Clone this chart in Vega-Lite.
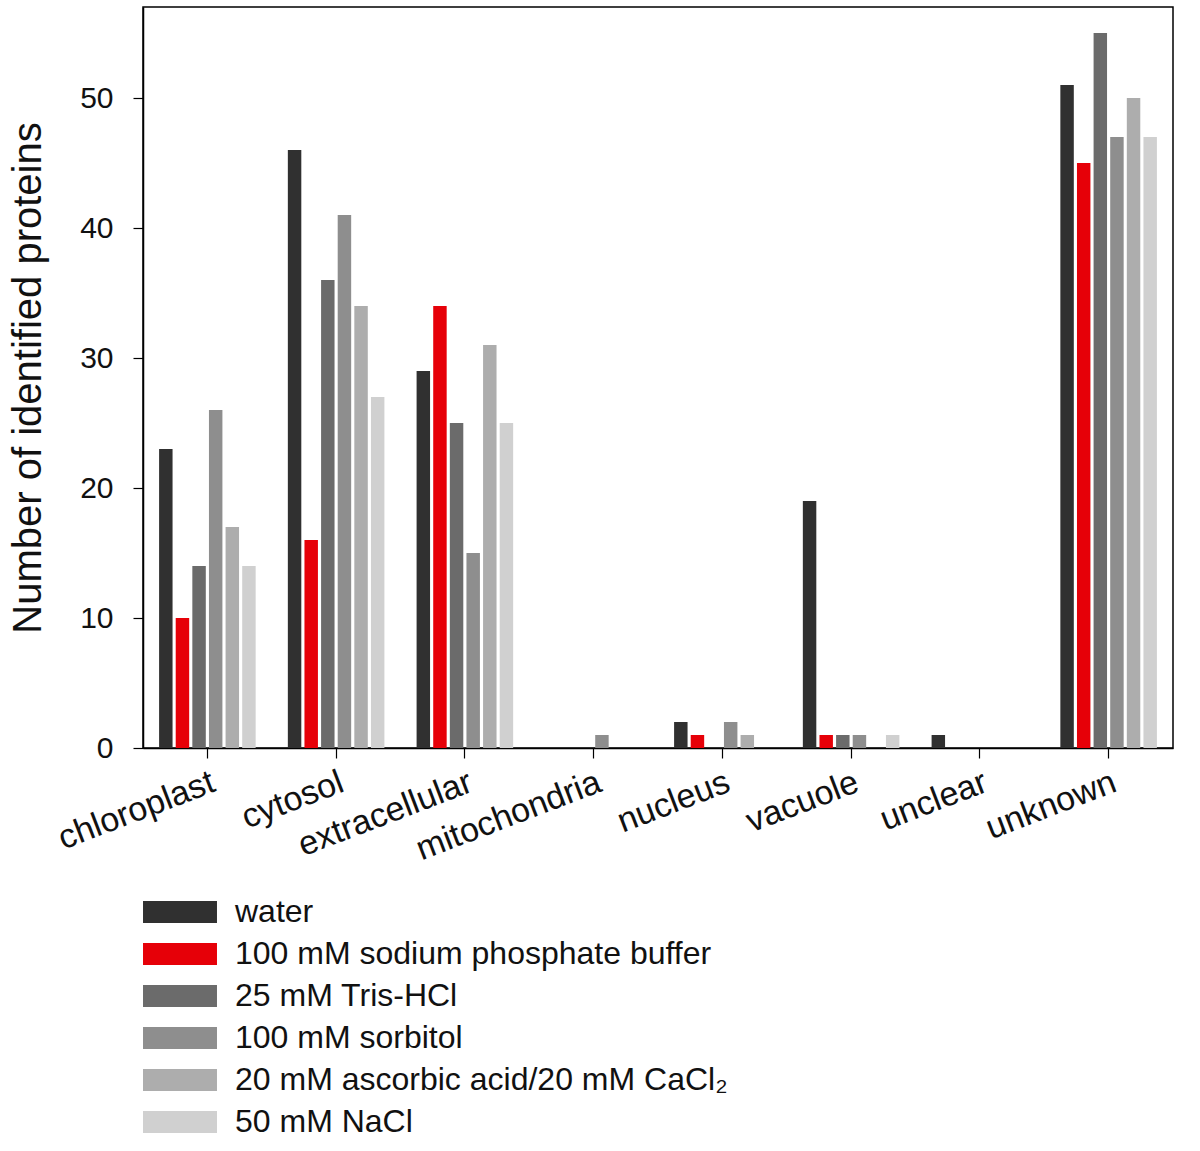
{
  "$schema": "https://vega.github.io/schema/vega-lite/v6.json",
  "width": 1030,
  "height": 741,
  "autosize": {"type": "none"},
  "padding": {"left": 143, "top": 7, "right": 27, "bottom": 403},
  "background": "white",
  "config": {
    "font": "Liberation Sans",
    "view": {"stroke": "#000", "strokeWidth": 1.5},
    "axis": {
      "domainColor": "#000",
      "domainWidth": 1.5,
      "tickColor": "#000",
      "tickWidth": 1.2,
      "tickSize": 10,
      "labelColor": "#111",
      "titleColor": "#111",
      "grid": false,
      "labelFont": "Liberation Sans",
      "titleFont": "Liberation Sans"
    }
  },
  "data": {
    "values": [
      {"location": "chloroplast", "solution": "water", "count": 23},
      {"location": "chloroplast", "solution": "100 mM sodium phosphate buffer", "count": 10},
      {"location": "chloroplast", "solution": "25 mM Tris-HCl", "count": 14},
      {"location": "chloroplast", "solution": "100 mM sorbitol", "count": 26},
      {"location": "chloroplast", "solution": "20 mM ascorbic acid/20 mM CaCl₂", "count": 17},
      {"location": "chloroplast", "solution": "50 mM NaCl", "count": 14},
      {"location": "cytosol", "solution": "water", "count": 46},
      {"location": "cytosol", "solution": "100 mM sodium phosphate buffer", "count": 16},
      {"location": "cytosol", "solution": "25 mM Tris-HCl", "count": 36},
      {"location": "cytosol", "solution": "100 mM sorbitol", "count": 41},
      {"location": "cytosol", "solution": "20 mM ascorbic acid/20 mM CaCl₂", "count": 34},
      {"location": "cytosol", "solution": "50 mM NaCl", "count": 27},
      {"location": "extracellular", "solution": "water", "count": 29},
      {"location": "extracellular", "solution": "100 mM sodium phosphate buffer", "count": 34},
      {"location": "extracellular", "solution": "25 mM Tris-HCl", "count": 25},
      {"location": "extracellular", "solution": "100 mM sorbitol", "count": 15},
      {"location": "extracellular", "solution": "20 mM ascorbic acid/20 mM CaCl₂", "count": 31},
      {"location": "extracellular", "solution": "50 mM NaCl", "count": 25},
      {"location": "mitochondria", "solution": "water", "count": 0},
      {"location": "mitochondria", "solution": "100 mM sodium phosphate buffer", "count": 0},
      {"location": "mitochondria", "solution": "25 mM Tris-HCl", "count": 0},
      {"location": "mitochondria", "solution": "100 mM sorbitol", "count": 1},
      {"location": "mitochondria", "solution": "20 mM ascorbic acid/20 mM CaCl₂", "count": 0},
      {"location": "mitochondria", "solution": "50 mM NaCl", "count": 0},
      {"location": "nucleus", "solution": "water", "count": 2},
      {"location": "nucleus", "solution": "100 mM sodium phosphate buffer", "count": 1},
      {"location": "nucleus", "solution": "25 mM Tris-HCl", "count": 0},
      {"location": "nucleus", "solution": "100 mM sorbitol", "count": 2},
      {"location": "nucleus", "solution": "20 mM ascorbic acid/20 mM CaCl₂", "count": 1},
      {"location": "nucleus", "solution": "50 mM NaCl", "count": 0},
      {"location": "vacuole", "solution": "water", "count": 19},
      {"location": "vacuole", "solution": "100 mM sodium phosphate buffer", "count": 1},
      {"location": "vacuole", "solution": "25 mM Tris-HCl", "count": 1},
      {"location": "vacuole", "solution": "100 mM sorbitol", "count": 1},
      {"location": "vacuole", "solution": "20 mM ascorbic acid/20 mM CaCl₂", "count": 0},
      {"location": "vacuole", "solution": "50 mM NaCl", "count": 1},
      {"location": "unclear", "solution": "water", "count": 1},
      {"location": "unclear", "solution": "100 mM sodium phosphate buffer", "count": 0},
      {"location": "unclear", "solution": "25 mM Tris-HCl", "count": 0},
      {"location": "unclear", "solution": "100 mM sorbitol", "count": 0},
      {"location": "unclear", "solution": "20 mM ascorbic acid/20 mM CaCl₂", "count": 0},
      {"location": "unclear", "solution": "50 mM NaCl", "count": 0},
      {"location": "unknown", "solution": "water", "count": 51},
      {"location": "unknown", "solution": "100 mM sodium phosphate buffer", "count": 45},
      {"location": "unknown", "solution": "25 mM Tris-HCl", "count": 55},
      {"location": "unknown", "solution": "100 mM sorbitol", "count": 47},
      {"location": "unknown", "solution": "20 mM ascorbic acid/20 mM CaCl₂", "count": 50},
      {"location": "unknown", "solution": "50 mM NaCl", "count": 47}
    ]
  },
  "mark": {"type": "bar"},
  "encoding": {
    "x": {
      "field": "location",
      "type": "nominal",
      "sort": ["chloroplast", "cytosol", "extracellular", "mitochondria", "nucleus", "vacuole", "unclear", "unknown"],
      "scale": {"paddingInner": 0.25, "paddingOuter": 0.125},
      "axis": {
        "title": null,
        "labelAngle": -21,
        "labelFontSize": 34,
        "labelPadding": 7,
        "labelAlign": "right",
        "labelBaseline": "top",
        "labelLimit": 400,
        "labelOverlap": false
      }
    },
    "xOffset": {
      "field": "solution",
      "type": "nominal",
      "sort": ["water", "100 mM sodium phosphate buffer", "25 mM Tris-HCl", "100 mM sorbitol", "20 mM ascorbic acid/20 mM CaCl₂", "50 mM NaCl"],
      "scale": {"paddingInner": 0.19, "paddingOuter": 0}
    },
    "y": {
      "field": "count",
      "type": "quantitative",
      "scale": {"domain": [0, 57], "nice": false},
      "axis": {
        "values": [0, 10, 20, 30, 40, 50],
        "title": "Number of identified proteins",
        "titleFontSize": 40,
        "titleFontWeight": "normal",
        "titlePadding": 31,
        "labelFontSize": 30,
        "labelPadding": 20
      }
    },
    "color": {
      "field": "solution",
      "type": "nominal",
      "scale": {
        "domain": ["water", "100 mM sodium phosphate buffer", "25 mM Tris-HCl", "100 mM sorbitol", "20 mM ascorbic acid/20 mM CaCl₂", "50 mM NaCl"],
        "range": ["#303030", "#e60008", "#6b6b6b", "#8e8e8e", "#adadad", "#d0d0d0"]
      },
      "legend": {
        "title": null,
        "orient": "none",
        "legendX": 21,
        "legendY": 889,
        "padding": 0,
        "symbolType": "M-4,-1.2L4,-1.2L4,1.2L-4,1.2Z",
        "symbolSize": 342,
        "symbolStrokeWidth": 0,
        "symbolOpacity": 1,
        "labelFontSize": 32,
        "labelColor": "#111",
        "labelOffset": 39,
        "labelLimit": 800,
        "rowPadding": 10
      }
    }
  }
}
